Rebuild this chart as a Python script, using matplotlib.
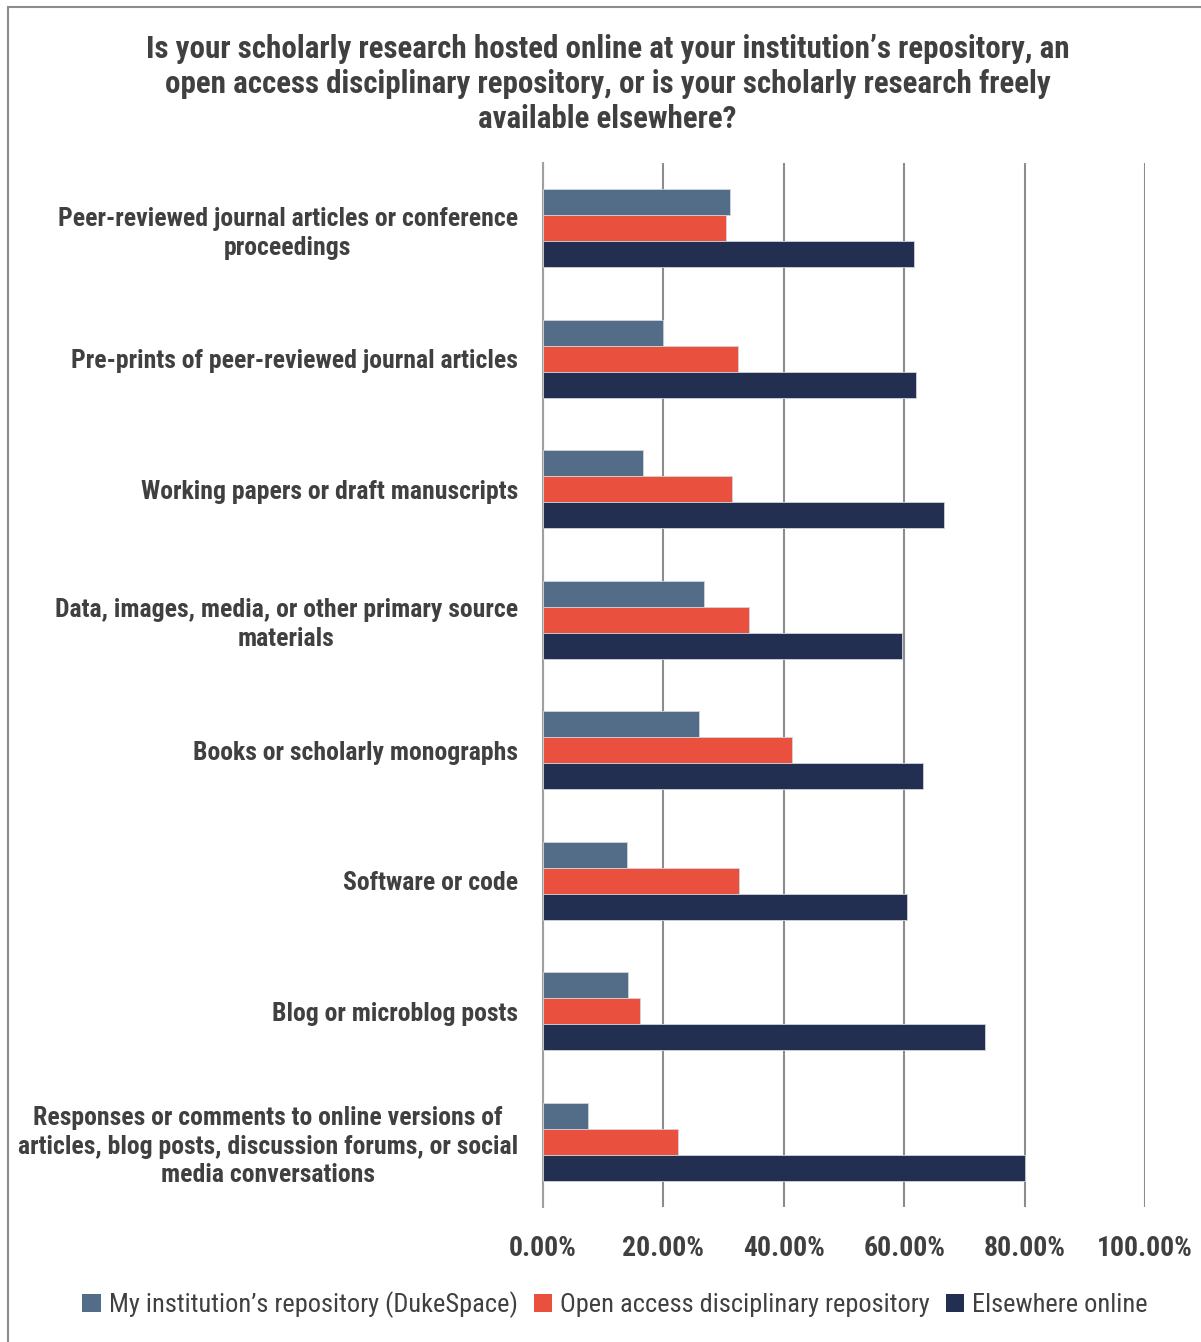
import matplotlib
matplotlib.use("Agg")
import matplotlib.pyplot as plt
from matplotlib.patches import Rectangle, Patch
import numpy as np

categories = [
    "Peer-reviewed journal articles or conference\nproceedings",
    "Pre-prints of peer-reviewed journal articles",
    "Working papers or draft manuscripts",
    "Data, images, media, or other primary source\nmaterials",
    "Books or scholarly monographs",
    "Software or code",
    "Blog or microblog posts",
    "Responses or comments to online versions of\narticles, blog posts, discussion forums, or social\nmedia conversations",
]
series_names = [
    "My institution\u2019s repository (DukeSpace)",
    "Open access disciplinary repository",
    "Elsewhere online",
]
institution = [31.1, 20.0, 16.6, 26.8, 26.0, 13.9, 14.2, 7.4]
open_access = [30.4, 32.4, 31.4, 34.3, 41.3, 32.6, 16.2, 22.5]
elsewhere = [61.6, 61.9, 66.7, 59.7, 63.1, 60.5, 73.5, 80.1]
tick_values = [0, 20, 40, 60, 80, 100]
tick_labels = ["0.00%", "20.00%", "40.00%", "60.00%", "80.00%", "100.00%"]

colors = ["#536C87", "#E9503E", "#232F50"]
text_color = "#404040"

plt.rcParams["font.family"] = ["Roboto Condensed", "DejaVu Sans"]

fig = plt.figure(figsize=(12.01, 13.42), dpi=100)
ax = fig.add_axes([0.4521, 0.1006, 0.5012, 0.7779])

y = np.arange(len(categories))
h = 0.2
for k, (vals, c) in enumerate(zip([institution, open_access, elsewhere], colors)):
    ax.barh(y + (k - 1) * h, vals, height=h, color=c, edgecolor="#d0d4dc",
            linewidth=0.6, zorder=3)

ax.set_xlim(0, 100)
ax.set_ylim(len(categories) - 0.5, -0.5)
ax.set_xticks(tick_values)
ax.set_xticklabels(tick_labels, fontsize=20, fontweight="bold", color=text_color)
ax.set_yticks(y)
ax.set_yticklabels(categories, fontsize=18.5, fontweight="bold", color=text_color,
                   multialignment="center", linespacing=1.25)
ax.tick_params(axis="both", length=0)
ax.tick_params(axis="x", pad=20)
ax.tick_params(axis="y", pad=18)
ax.grid(axis="x", color="#8c8c8c", linewidth=1.5, zorder=0)
for s in ["top", "right", "bottom"]:
    ax.spines[s].set_visible(False)
ax.spines["left"].set_color("#a0a0a0")
ax.spines["left"].set_linewidth(1.5)

fig.text(0.506, 1 - 84 / 1342,
         "Is your scholarly research hosted online at your institution\u2019s repository, an\n"
         "open access disciplinary repository, or is your scholarly research freely\n"
         "available elsewhere?",
         ha="center", va="center", fontsize=22.3, fontweight="bold", color=text_color,
         linespacing=1.2)

handles = [Patch(facecolor=c) for c in colors]
fig.legend(handles, series_names, loc="center", bbox_to_anchor=(0.512, 1 - 1305 / 1342),
           ncol=3, frameon=False, fontsize=19, handlelength=0.7, handleheight=0.7,
           handletextpad=0.3, columnspacing=0.6, labelcolor=text_color)

fig.patches.append(Rectangle((8 / 1201, -0.01), 1.1, 1 - 7 / 1342 + 0.01,
                             transform=fig.transFigure, fill=False,
                             edgecolor="#8c8c8c", linewidth=1.5))

fig.savefig("out.png", dpi=100)
